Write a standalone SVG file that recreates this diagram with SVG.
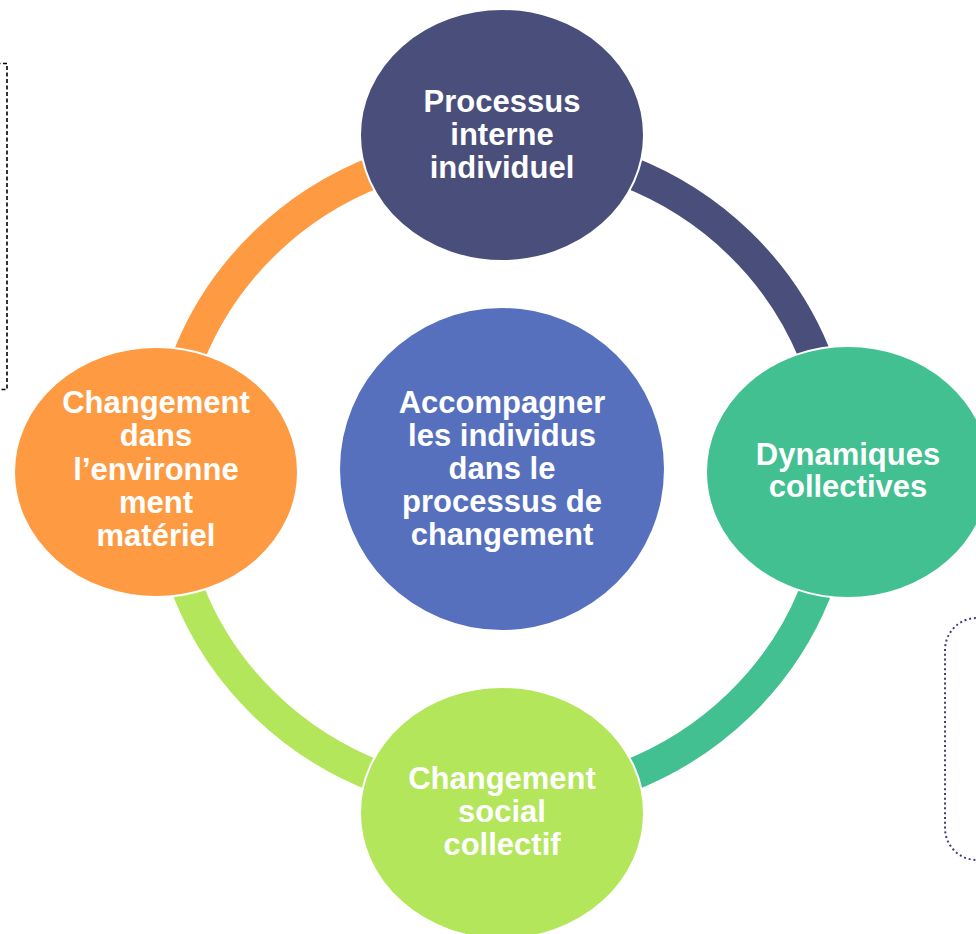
<svg xmlns="http://www.w3.org/2000/svg" width="976" height="934" viewBox="0 0 976 934">
<style>
.lbl{font-family:"Liberation Sans",Arial,sans-serif;font-weight:bold;font-size:31px;fill:#fff;text-anchor:middle}
.arc{fill:none;stroke-width:32;stroke-linecap:butt}
.node{stroke:#fff;stroke-width:2}
</style>
<rect width="976" height="934" fill="#fff"/>
<rect x="-10" y="63.5" width="17" height="326" fill="none" stroke="#000" stroke-width="1.6" stroke-dasharray="4 2.5"/>
<rect x="945" y="618" width="80" height="242" rx="32" ry="32" fill="none" stroke="#3d3f7a" stroke-width="2" stroke-dasharray="2 2.8"/>
<g id="connectors">
<path class="arc" stroke="#4a4e7b" d="M502,148 A336,326 0 0 1 838,474"/>
<path class="arc" stroke="#42c092" d="M838,474 A336,326 0 0 1 502,800"/>
<path class="arc" stroke="#b3e65a" d="M502,800 A336,326 0 0 1 166,474"/>
<path class="arc" stroke="#fe9b42" d="M166,474 A336,326 0 0 1 502,148"/>
</g>
<g id="node-center">
<ellipse cx="502" cy="469" rx="162" ry="161" fill="#5770be"/>
<text class="lbl"><tspan x="502" y="413">Accompagner</tspan><tspan x="502" y="446">les individus</tspan><tspan x="502" y="479">dans le</tspan><tspan x="502" y="512">processus de</tspan><tspan x="502" y="545">changement</tspan></text>
</g>
<g id="node-top">
<ellipse class="node" cx="502" cy="135" rx="142" ry="126" fill="#4a4e7b"/>
<text class="lbl"><tspan x="502" y="112">Processus</tspan><tspan x="502" y="145">interne</tspan><tspan x="502" y="178">individuel</tspan></text>
</g>
<g id="node-right">
<ellipse class="node" cx="848" cy="472" rx="142" ry="126" fill="#42c092"/>
<text class="lbl"><tspan x="848" y="465">Dynamiques</tspan><tspan x="848" y="497">collectives</tspan></text>
</g>
<g id="node-bottom">
<ellipse class="node" cx="502" cy="813" rx="142" ry="126" fill="#b3e65a"/>
<text class="lbl"><tspan x="502" y="789">Changement</tspan><tspan x="502" y="822">social</tspan><tspan x="502" y="855">collectif</tspan></text>
</g>
<g id="node-left">
<ellipse class="node" cx="156" cy="472" rx="142" ry="125" fill="#fe9b42"/>
<text class="lbl"><tspan x="156" y="413">Changement</tspan><tspan x="156" y="446">dans</tspan><tspan x="156" y="480">l’environne</tspan><tspan x="156" y="513">ment</tspan><tspan x="156" y="546">matériel</tspan></text>
</g>
</svg>
